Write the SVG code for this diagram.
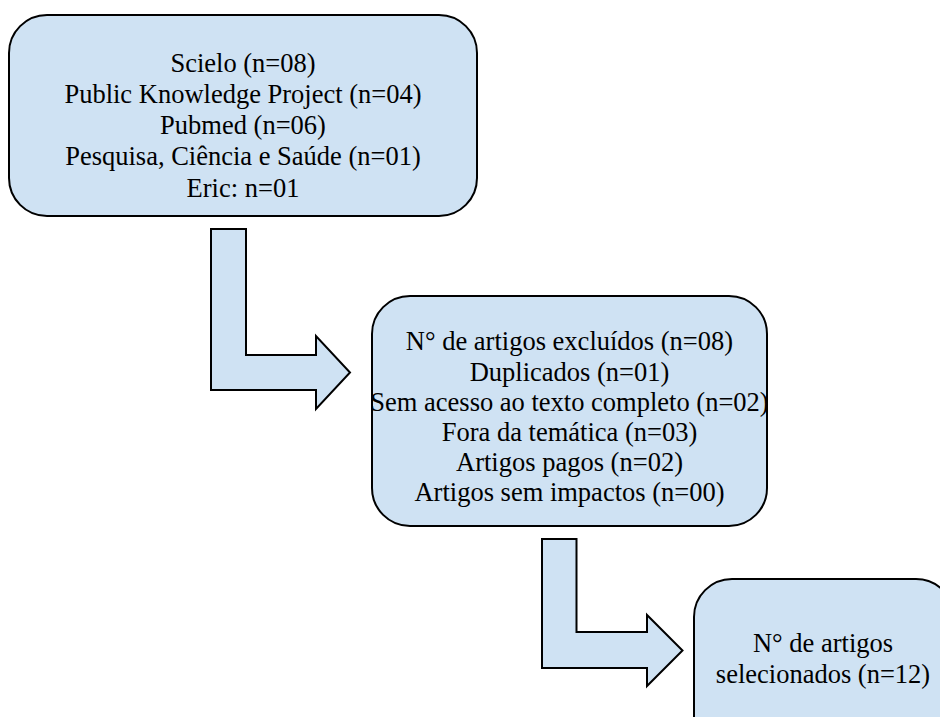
<svg xmlns="http://www.w3.org/2000/svg" width="940" height="717" viewBox="0 0 940 717">
<style>
.box{fill:#cfe2f3;stroke:#000;stroke-width:2}
.arr{fill:#cfe2f3;stroke:#000;stroke-width:2;stroke-linejoin:miter}
text{font-family:"Liberation Serif","Times New Roman",serif;font-size:26.5px;fill:#000;text-anchor:middle}
</style>
<rect width="940" height="717" fill="#fff"/>
<g id="connectors">
<path class="arr" d="M211,229 H246 V355 H316 V336 L350,372.5 L316,409 V390 H211 Z"/>
<path class="arr" d="M542,539 H576.5 V632 H647 V615 L682.5,650.5 L647,686 V668 H542 Z"/>
</g>
<g id="sources">
<rect class="box" x="9" y="15" width="468" height="201" rx="38" ry="38"/>
<text x="243" y="72">Scielo (n=08)</text>
<text x="243" y="103">Public Knowledge Project (n=04)</text>
<text x="243" y="134">Pubmed (n=06)</text>
<text x="243" y="165">Pesquisa, Ciência e Saúde (n=01)</text>
<text x="243" y="196.5">Eric: n=01</text>
</g>
<g id="excluded">
<rect class="box" x="372" y="296" width="395" height="230" rx="38" ry="38"/>
<text x="569.5" y="350">N° de artigos excluídos (n=08)</text>
<text x="569.5" y="380.5">Duplicados (n=01)</text>
<text x="569.5" y="410.5">Sem acesso ao texto completo (n=02)</text>
<text x="569.5" y="440.5">Fora da temática (n=03)</text>
<text x="569.5" y="470.5">Artigos pagos (n=02)</text>
<text x="569.5" y="500.5">Artigos sem impactos (n=00)</text>
</g>
<g id="selected">
<rect class="box" x="694" y="579" width="260" height="230" rx="38" ry="38"/>
<text x="823" y="652">N° de artigos</text>
<text x="823" y="683">selecionados (n=12)</text>
</g>
</svg>
